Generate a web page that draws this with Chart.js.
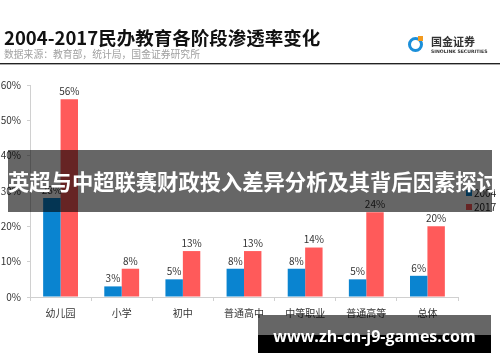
<!DOCTYPE html>
<html>
<head>
<meta charset="utf-8">
<script src="https://cdn.jsdelivr.net/npm/chart.js@4.4.0/dist/chart.umd.min.js"></script>
<style>
  html, body { margin: 0; padding: 0; background: #fff; }
  #wrap { position: relative; width: 500px; height: 362px; overflow: hidden; font-family: "Noto Sans CJK SC", sans-serif; }
  #chart { position: absolute; left: 0; top: 0; }
  .title { position: absolute; left: 4px; top: 24px; font-size: 18.5px; font-weight: bold; color: #111; white-space: nowrap; line-height: 26px; }
  .source { position: absolute; left: 4px; top: 47px; font-size: 9.8px; color: #a0a0a0; white-space: nowrap; line-height: 14px; }
  .rule1 { position: absolute; left: 0; top: 63px; width: 500px; height: 1px; background: #222; }
  .rule2 { position: absolute; left: 0; top: 64px; width: 500px; height: 1px; background: #aaa; }
  .logo-icon { position: absolute; left: 408px; top: 37px; width: 9px; height: 9px; border: 3.5px solid #1b8fd9; border-radius: 50%; }
  .logo-dot { position: absolute; left: 418px; top: 36px; width: 5px; height: 5px; background: #f29a1f; }
  .logo-cn { position: absolute; left: 431px; top: 34px; font-size: 11px; font-weight: bold; color: #333; line-height: 14px; white-space: nowrap; }
  .logo-en { position: absolute; left: 431px; top: 49px; font-family: "DejaVu Sans", sans-serif; font-size: 4.6px; font-weight: bold; color: #333; line-height: 6px; white-space: nowrap; }
  .banner { position: absolute; left: 8px; top: 150px; width: 484px; height: 62px; background: rgba(0,0,0,0.6); }
  .banner span { position: absolute; left: 0; top: 18px; color: #fff; font-weight: bold; font-size: 21.3px; line-height: 26px; white-space: nowrap; }
  .site { position: absolute; left: 258px; top: 315px; width: 233px; height: 38px; background: linear-gradient(to bottom, rgba(0,0,0,0.6) 0, rgba(0,0,0,0.6) 20px, #000 20px, #000 38px); }
  .site span { position: absolute; left: 0; width: 233px; top: 10px; text-align: center; color: #fff; font-family: "Open Sans", sans-serif; font-weight: bold; font-size: 16px; line-height: 22px; white-space: nowrap; }
</style>
</head>
<body>
<div id="wrap">
  <canvas id="chart" width="500" height="362"></canvas>
  <div class="title">2004-2017民办教育各阶段渗透率变化</div>
  <div class="source">数据来源：教育部，统计局，国金证券研究所</div>
  <div class="logo-icon"></div>
  <div class="logo-dot"></div>
  <div class="logo-cn">国金证券</div>
  <div class="logo-en">SINOLINK SECURITIES</div>
  <div class="rule1"></div>
  <div class="rule2"></div>
  <div class="banner"><span>英超与中超联赛财政投入差异分析及其背后因素探讨</span></div>
  <div class="site"><span>www.zh-cn-j9-games.com</span></div>
</div>
<script>
// data (percent)
const categories = ['幼儿园', '小学', '初中', '普通高中', '中等职业', '普通高等', '总体'];
const seriesNames = ['2004', '2017'];
const rate2004 = [28, 3, 5, 8, 8, 5, 6];
const rate2017 = [56, 8, 13, 13, 14, 24, 20];
const yMax = 60;
const yStep = 10;

const blue = '#0a84d0';
const red = '#ff5a5a';

Chart.defaults.font.family = '"Noto Sans CJK SC", sans-serif';
Chart.defaults.color = '#333';

// value labels above bars
const barLabels = {
    id: 'barLabels',
    afterDatasetsDraw(chart) {
        const ctx = chart.ctx;
        ctx.save();
        ctx.font = '10px "Noto Sans CJK SC", sans-serif';
        ctx.fillStyle = '#333';
        ctx.textAlign = 'center';
        ctx.textBaseline = 'bottom';
        chart.data.datasets.forEach((ds, di) => {
            chart.getDatasetMeta(di).data.forEach((bar, i) => {
                ctx.fillText(ds.data[i] + '%', bar.x, bar.y - 3);
            });
        });
        ctx.restore();
    }
};

// small legend at the right side
const sideLegend = {
    id: 'sideLegend',
    afterDraw(chart) {
        const ctx = chart.ctx;
        ctx.save();
        ctx.font = '10px "Noto Sans CJK SC", sans-serif';
        ctx.textBaseline = 'middle';
        chart.data.datasets.forEach((ds, di) => {
            const y = 193 + di * 14;
            ctx.fillStyle = ds.backgroundColor;
            ctx.fillRect(466, y - 3, 6, 6);
            ctx.fillStyle = '#222';
            ctx.fillText(ds.label, 474, y);
        });
        ctx.restore();
    }
};

new Chart(document.getElementById('chart'), {
    type: 'bar',
    data: {
        labels: categories,
        datasets: [
            { label: seriesNames[0], data: rate2004, backgroundColor: blue },
            { label: seriesNames[1], data: rate2017, backgroundColor: red }
        ]
    },
    options: {
        responsive: false,
        animation: false,
        categoryPercentage: 0.57,
        barPercentage: 1.0,
        layout: { padding: { top: 85, right: 42, bottom: 0, left: 0 } },
        plugins: {
            legend: { display: false },
            tooltip: { enabled: false }
        },
        scales: {
            x: {
                afterFit: (s) => { s.height = 65; },
                border: { color: '#d0d0d0' },
                grid: { offset: true, drawOnChartArea: false, tickLength: 4, color: '#d0d0d0' },
                ticks: { font: { size: 10 }, color: '#333', padding: 6 }
            },
            y: {
                min: 0,
                max: yMax,
                afterFit: (s) => { s.width = 30; },
                border: { color: '#d0d0d0' },
                grid: { drawOnChartArea: false, tickLength: 3, color: '#d0d0d0' },
                ticks: { stepSize: yStep, font: { size: 10 }, color: '#333', padding: 6, callback: (v) => v + '%' }
            }
        }
    },
    plugins: [barLabels, sideLegend]
});
</script>
</body>
</html>
